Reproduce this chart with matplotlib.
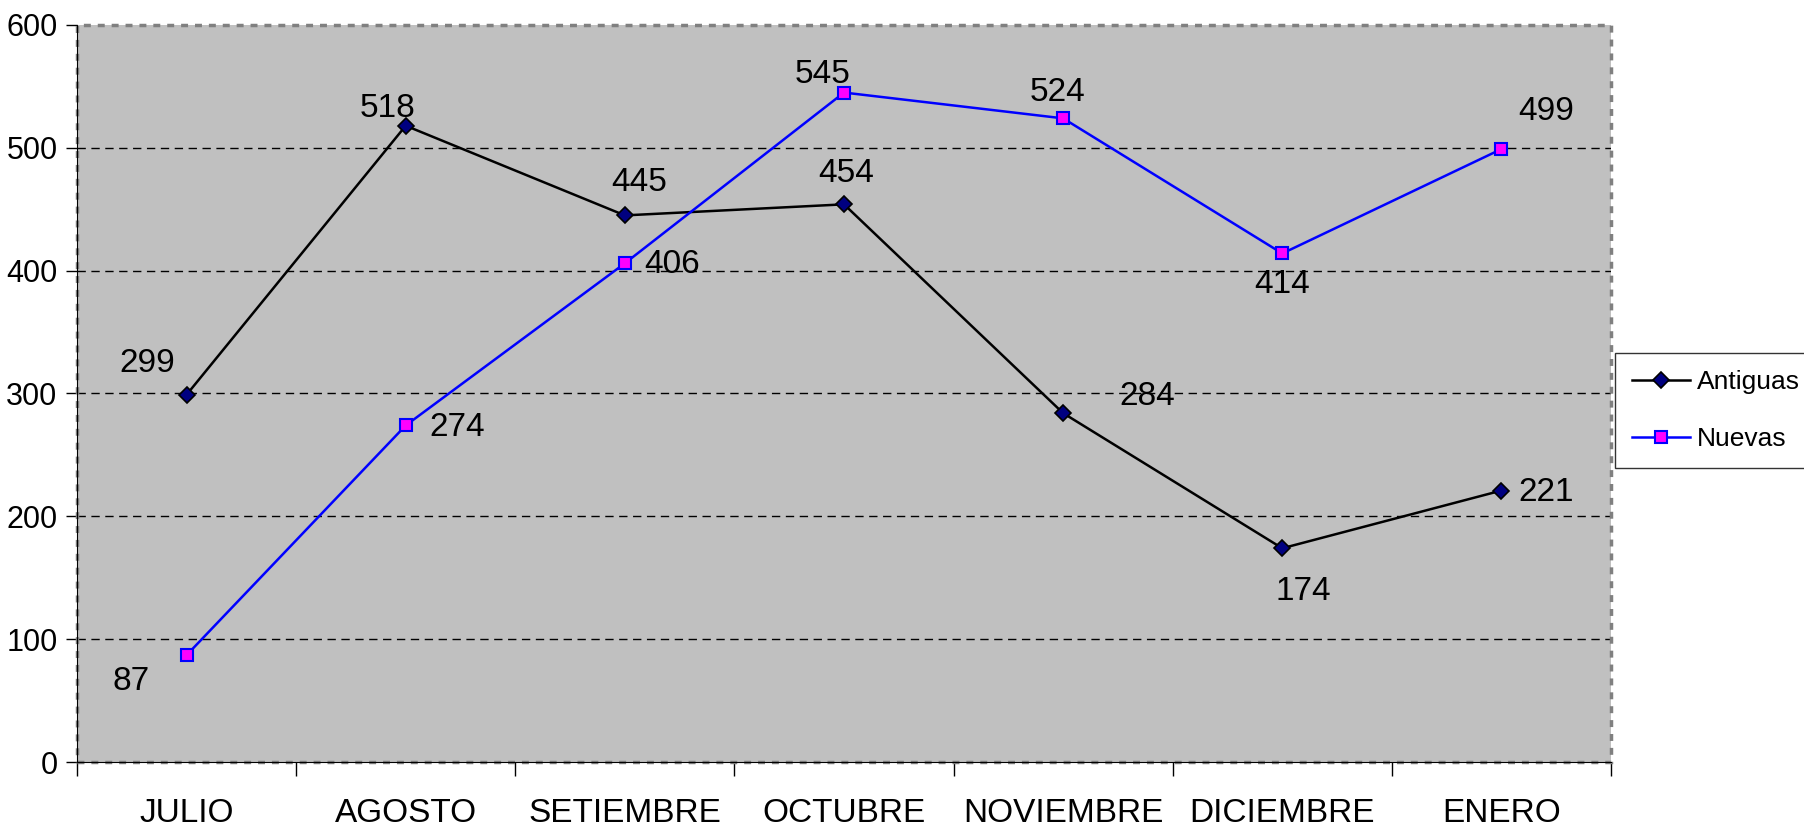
"""Antiguas vs Nuevas por mes."""
import numpy as np
import matplotlib
matplotlib.use("Agg")
import matplotlib.pyplot as plt
from matplotlib.patches import Rectangle

plt.rcParams['font.family'] = ['Liberation Sans', 'DejaVu Sans']

months   = ["JULIO", "AGOSTO", "SETIEMBRE", "OCTUBRE", "NOVIEMBRE", "DICIEMBRE", "ENERO"]
antiguas = [299, 518, 445, 454, 284, 174, 221]
nuevas   = [87, 274, 406, 545, 524, 414, 499]

# label offsets in pixels (dx, dy up)
off_ant = [(-39, 31), (-18, 17), (14, 33), (2, 31), (84, 17), (21, -43), (45, -2)]
off_nue = [(-56, -26), (51, -2), (47, -1), (-21, 18), (-6, 26), (0, -31), (45, 38)]

FS = 24
fig = plt.figure(figsize=(18.04, 8.31), dpi=100)
ax = fig.add_axes([77/1804, 1 - 762/831, (1611 - 77)/1804, (762 - 25)/831])
ax.set_facecolor("#c0c0c0")

x = np.arange(len(months))
ax.plot(x, antiguas, color="black", lw=1.8, marker="D", ms=8.5,
        mfc="#000080", mec="black", mew=1.2, label="Antiguas", zorder=4)
ax.plot(x, nuevas, color="#0000ff", lw=1.8, marker="s", ms=8,
        mfc="#ff00ff", mec="#0000ff", mew=1.5, label="Nuevas", zorder=4)

for xi, v, (dx, dy) in zip(x, antiguas, off_ant):
    ax.annotate(str(v), (xi, v), xytext=(dx, dy), textcoords="offset pixels",
                ha="center", va="center", fontsize=FS, zorder=5)
for xi, v, (dx, dy) in zip(x, nuevas, off_nue):
    ax.annotate(str(v), (xi, v), xytext=(dx, dy), textcoords="offset pixels",
                ha="center", va="center", fontsize=FS, zorder=5)

ax.set_xlim(-0.5, len(months) - 0.5)
ax.set_ylim(0, 600)
ax.set_yticks(range(0, 601, 100))
ax.tick_params(axis="y", direction="out", length=8, width=1, labelsize=22, pad=6)
ax.set_xticks(x)
ax.set_xticklabels(months)
ax.tick_params(axis="x", which="major", length=0, labelsize=FS, pad=26)
ax.set_xticks(np.arange(-0.5, len(months), 1), minor=True)
ax.tick_params(axis="x", which="minor", direction="out", length=10, width=1)

for yv in range(100, 600, 100):
    ax.axhline(yv, color="black", lw=1, ls=(0, (6, 4)), zorder=1)

for s in ["top", "right"]:
    ax.spines[s].set_visible(False)
ax.spines["left"].set_color("black")
ax.spines["bottom"].set_color("black")
ax.add_patch(Rectangle((0, 0), 1, 1, transform=ax.transAxes, fill=False,
                       ec="#808080", lw=2.5, ls=(0, (2, 2)), clip_on=False, zorder=2))

leg = fig.legend(loc="upper left", bbox_to_anchor=(1615/1804, 1 - 353/831),
                 fontsize=19, frameon=True, fancybox=False, edgecolor="black",
                 handlelength=2.2, handletextpad=0.25, borderpad=0.65,
                 labelspacing=1.25, borderaxespad=0)
leg.get_frame().set_linewidth(1)

plt.savefig("out.png", dpi=100)
plt.close()
